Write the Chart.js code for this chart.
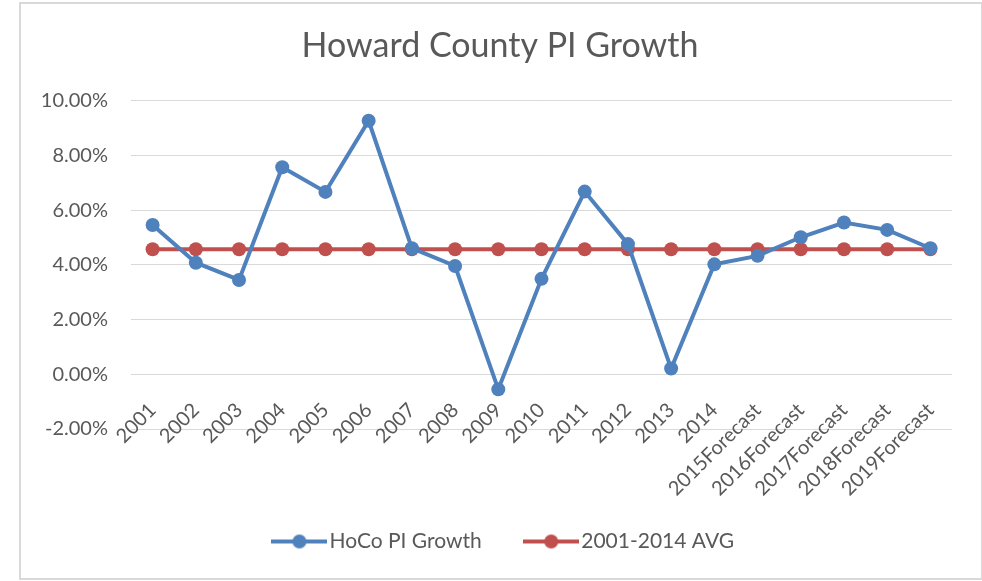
<!DOCTYPE html>
<html>
<head>
<meta charset="utf-8">
<script src="https://cdn.jsdelivr.net/npm/chart.js@4.4.1/dist/chart.umd.min.js"></script>
<style>
  html, body { margin: 0; padding: 0; background: #fff; }
  #frame { position: absolute; left: 19px; top: 2px; width: 960px; height: 574px; border: 2px solid #d9d9d9; }
  #wrap { position: absolute; left: 0; top: 0; width: 982px; height: 581px; }
</style>
</head>
<body>
<div id="frame"></div>
<div id="wrap"><canvas id="chart" width="982" height="581"></canvas></div>
<script>
const categories = ['2001', '2002', '2003', '2004', '2005', '2006', '2007', '2008', '2009', '2010',
  '2011', '2012', '2013', '2014', '2015Forecast', '2016Forecast', '2017Forecast', '2018Forecast', '2019Forecast'];
const hocoGrowth = [5.46, 4.08, 3.45, 7.57, 6.67, 9.27, 4.61, 3.96, -0.55, 3.49,
  6.68, 4.76, 0.21, 4.02, 4.33, 5.01, 5.55, 5.28, 4.61];
const avgGrowth = [4.57, 4.57, 4.57, 4.57, 4.57, 4.57, 4.57, 4.57, 4.57, 4.57,
  4.57, 4.57, 4.57, 4.57, 4.57, 4.57, 4.57, 4.57, 4.57];
const yTicks = [-2, 0, 2, 4, 6, 8, 10];

const BLUE = '#4f81bd';
const RED = '#c0504d';
const TEXT = '#595959';
const FONT = 'Lato, "Open Sans", sans-serif';

// legend marker: short line with a dot in the middle
function legendMarker(color) {
  const c = document.createElement('canvas');
  c.width = 56; c.height = 16;
  const g = c.getContext('2d');
  g.strokeStyle = color;
  g.lineWidth = 4;
  g.beginPath(); g.moveTo(0, 8); g.lineTo(56, 8); g.stroke();
  g.fillStyle = color;
  g.beginPath(); g.arc(28, 8, 7, 0, Math.PI * 2); g.fill();
  return c;
}
const markers = [legendMarker(BLUE), legendMarker(RED)];

// title and legend are centred on the whole frame, not on the plot
const centreShift = {
  id: 'centreShift',
  afterLayout(chart) {
    chart.titleBlock.left += 24; chart.titleBlock.right += 24;
    chart.legend.left += 31; chart.legend.right += 31;
  }
};

new Chart(document.getElementById('chart'), {
  type: 'line',
  data: {
    labels: categories,
    datasets: [
      {
        label: 'HoCo PI Growth',
        data: hocoGrowth,
        borderColor: BLUE,
        backgroundColor: BLUE,
        borderWidth: 4,
        pointRadius: 7,
        pointHoverRadius: 7,
        pointBorderWidth: 0,
        tension: 0
      },
      {
        label: '2001-2014 AVG',
        data: avgGrowth,
        borderColor: RED,
        backgroundColor: RED,
        borderWidth: 4,
        pointRadius: 7,
        pointHoverRadius: 7,
        pointBorderWidth: 0,
        tension: 0
      }
    ]
  },
  plugins: [centreShift],
  options: {
    responsive: false,
    animation: false,
    layout: { padding: { left: 0, right: 30, top: 10, bottom: 19 } },
    plugins: {
      tooltip: { enabled: false },
      title: {
        display: true,
        text: 'Howard County PI Growth',
        color: TEXT,
        font: { family: FONT, size: 34, weight: 'normal' },
        padding: { top: 16, bottom: 34 }
      },
      legend: {
        position: 'bottom',
        // empty legend title only reserves room for the rotated category labels
        title: { display: true, text: ' ', font: { size: 10 }, padding: { top: 40, bottom: 0 } },
        labels: {
          color: TEXT,
          font: { family: FONT, size: 21 },
          usePointStyle: true,
          pointStyleWidth: 39,
          boxHeight: 16,
          padding: 50,
          generateLabels: chart => chart.data.datasets.map((ds, i) => ({
            text: ds.label,
            pointStyle: markers[i],
            fillStyle: ds.borderColor,
            strokeStyle: ds.borderColor,
            lineWidth: 0,
            fontColor: TEXT,
            datasetIndex: i
          }))
        }
      }
    },
    scales: {
      x: {
        position: { y: 0 },
        offset: true,
        grid: { display: false, drawTicks: false },
        border: { display: false },
        ticks: {
          color: TEXT,
          font: { family: FONT, size: 20 },
          minRotation: 45,
          maxRotation: 45,
          autoSkip: false,
          padding: 24
        }
      },
      y: {
        min: -2,
        max: 10,
        afterBuildTicks: axis => { axis.ticks = yTicks.map(v => ({ value: v })); },
        afterFit: axis => { axis.width = 131; },
        grid: { color: '#d9d9d9', lineWidth: 1, drawTicks: false },
        border: { display: false },
        ticks: {
          color: TEXT,
          font: { family: FONT, size: 20 },
          padding: 23,
          callback: v => v.toFixed(2) + '%'
        }
      }
    }
  }
});
</script>
</body>
</html>
